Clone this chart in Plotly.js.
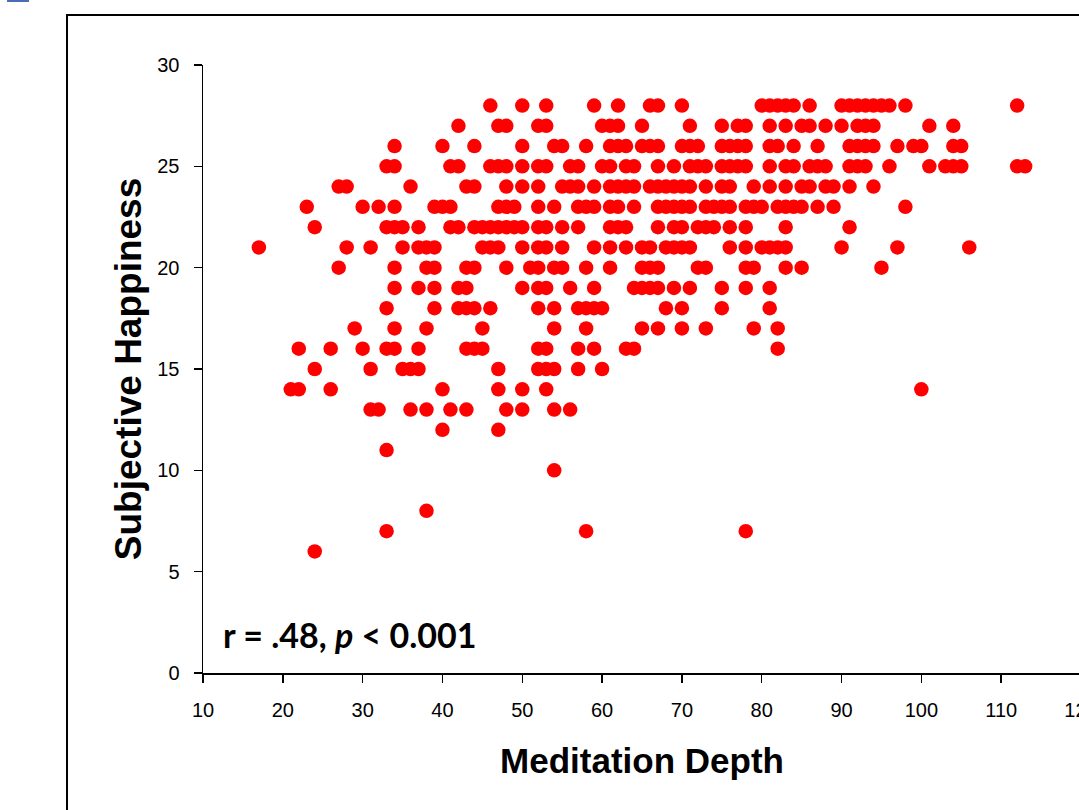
<!DOCTYPE html>
<html>
<head>
<meta charset="utf-8">
<script src="https://cdn.plot.ly/plotly-3.0.1.min.js"></script>
<style>
  html, body { margin: 0; padding: 0; overflow: hidden; background: #fff; width: 1079px; height: 810px; }
  #chart { position: absolute; left: 0; top: 0; }
</style>
</head>
<body>
<div id="chart"></div>
<script>
// Meditation depth values observed at each subjective-happiness level
const h28 = [46, 50, 53, 59, 62, 66, 67, 70, 80, 81, 82, 83, 84, 86, 90, 91, 92, 93, 94, 95, 96, 98, 112];
const h27 = [42, 47, 48, 52, 53, 60, 61, 62, 65, 71, 75, 77, 78, 81, 83, 85, 86, 88, 90, 92, 93, 94, 101, 104];
const h26 = [34, 40, 44, 50, 54, 55, 58, 61, 62, 63, 65, 66, 67, 70, 71, 72, 75, 76, 77, 78, 81, 82, 84, 87, 91, 92, 93, 94, 97, 99, 100, 104, 105];
const h25 = [33, 34, 41, 42, 46, 47, 48, 50, 52, 53, 56, 57, 60, 61, 63, 64, 67, 69, 71, 72, 73, 75, 76, 77, 78, 81, 83, 84, 86, 87, 88, 91, 92, 93, 96, 101, 103, 104, 105, 112, 113];
const h24 = [27, 28, 36, 43, 44, 48, 50, 52, 55, 56, 57, 59, 61, 62, 63, 64, 66, 67, 68, 69, 70, 71, 73, 75, 76, 79, 81, 83, 85, 86, 88, 89, 91, 94];
const h23 = [23, 30, 32, 34, 39, 40, 41, 47, 48, 49, 52, 54, 57, 58, 59, 61, 62, 64, 67, 68, 69, 70, 71, 73, 74, 75, 76, 78, 79, 80, 82, 83, 84, 85, 87, 89, 98];
const h22 = [24, 33, 34, 35, 37, 41, 42, 44, 45, 46, 47, 48, 49, 50, 52, 53, 55, 57, 61, 62, 63, 67, 69, 70, 72, 73, 74, 76, 78, 83, 91];
const h21 = [17, 28, 31, 35, 37, 38, 39, 45, 46, 47, 50, 52, 53, 55, 59, 61, 63, 65, 66, 68, 69, 70, 71, 76, 78, 80, 81, 82, 83, 90, 97, 106];
const h20 = [27, 34, 38, 39, 43, 44, 48, 51, 52, 54, 55, 58, 61, 65, 66, 67, 72, 73, 78, 79, 83, 85, 95];
const h19 = [34, 37, 39, 42, 43, 50, 52, 53, 56, 59, 64, 65, 66, 67, 69, 71, 75, 78, 81];
const h18 = [33, 39, 42, 43, 44, 46, 52, 54, 57, 58, 59, 60, 68, 70, 75, 81];
const h17 = [29, 34, 38, 45, 54, 58, 65, 67, 70, 73, 79, 82];
const h16 = [22, 26, 30, 33, 34, 37, 43, 44, 45, 52, 53, 57, 59, 63, 64, 82];
const h15 = [24, 31, 35, 36, 37, 47, 52, 53, 54, 57, 60];
const h14 = [21, 22, 26, 40, 47, 50, 53, 100];
const h13 = [31, 32, 36, 38, 41, 43, 48, 50, 54, 56];
const h12 = [40, 47];
const h11 = [33];
const h10 = [54];
const h8 = [38];
const h7 = [33, 58, 78];
const h6 = [24];

const happinessLevels = [28, 27, 26, 25, 24, 23, 22, 21, 20, 19, 18, 17, 16, 15, 14, 13, 12, 11, 10, 8, 7, 6];
const depthRows = [h28, h27, h26, h25, h24, h23, h22, h21, h20, h19, h18, h17, h16, h15, h14, h13, h12, h11, h10, h8, h7, h6];

const xTicks = [10, 20, 30, 40, 50, 60, 70, 80, 90, 100, 110, 120];
const yTicks = [0, 5, 10, 15, 20, 25, 30];

const xTitle = 'Meditation Depth';
const yTitle = 'Subjective Happiness';
const statText = '<b>r = .48, <i>p</i> &lt; 0.001</b>';

const xs = [], ys = [];
depthRows.forEach((row, i) => {
  row.forEach(d => { xs.push(d); ys.push(happinessLevels[i]); });
});

// page geometry
const W = 1200, H = 900;
const L = 203, T = 65, R = W - 1081, B = H - 673;
const pw = W - L - R, ph = H - T - B;
const px = v => (v - L) / pw;
const py = v => (H - B - v) / ph;

const trace = {
  type: 'scatter',
  mode: 'markers',
  x: xs,
  y: ys,
  marker: { color: '#FF0000', size: 14.5, line: { width: 0 } },
  hoverinfo: 'x+y',
  cliponaxis: false
};

const axisFont = '"Liberation Sans", Arial, sans-serif';

const layout = {
  width: W,
  height: H,
  margin: { l: L, r: R, t: T, b: B, pad: 0 },
  paper_bgcolor: '#ffffff',
  plot_bgcolor: '#ffffff',
  showlegend: false,
  font: { family: axisFont, color: '#000' },
  xaxis: {
    range: [10, 120],
    tickvals: xTicks,
    ticktext: xTicks.map(String),
    showgrid: false,
    zeroline: false,
    showline: true,
    linecolor: '#000',
    linewidth: 1.5,
    ticks: 'outside',
    ticklen: 8,
    tickwidth: 1.5,
    tickcolor: '#000',
    ticklabelstandoff: 10,
    tickfont: { size: 20, family: axisFont, color: '#000' },
    title: {
      text: xTitle,
      font: { size: 35, family: axisFont, color: '#000', weight: 'bold' },
      standoff: 29
    },
    fixedrange: true
  },
  yaxis: {
    range: [0, 30],
    tickvals: yTicks,
    ticktext: yTicks.map(String),
    showgrid: false,
    zeroline: false,
    showline: true,
    linecolor: '#000',
    linewidth: 1.5,
    ticks: 'outside',
    ticklen: 8,
    tickwidth: 1.5,
    tickcolor: '#000',
    ticklabelstandoff: 10,
    tickfont: { size: 20, family: axisFont, color: '#000' },
    title: {
      text: yTitle,
      font: { size: 37, family: axisFont, color: '#000', weight: 'bold' },
      standoff: 4
    },
    fixedrange: true
  },
  annotations: [{
    xref: 'x', yref: 'y',
    x: 12.2, y: 1.9,
    xanchor: 'left', yanchor: 'middle',
    text: statText,
    showarrow: false,
    font: { size: 34, family: 'Lato, "Open Sans", sans-serif', color: '#000' }
  }],
  shapes: [
    { type: 'rect', xref: 'paper', yref: 'paper',
      x0: px(67), x1: px(1400), y0: py(15), y1: py(1200),
      line: { color: '#000', width: 2 }, fillcolor: 'rgba(0,0,0,0)', layer: 'above' },
    { type: 'rect', xref: 'paper', yref: 'paper',
      x0: px(7), x1: px(29), y0: py(-2), y1: py(2),
      line: { width: 0 }, fillcolor: '#4A6DB5', layer: 'above' }
  ]
};

Plotly.newPlot('chart', [trace], layout, { displayModeBar: false, staticPlot: true });
</script>
</body>
</html>
